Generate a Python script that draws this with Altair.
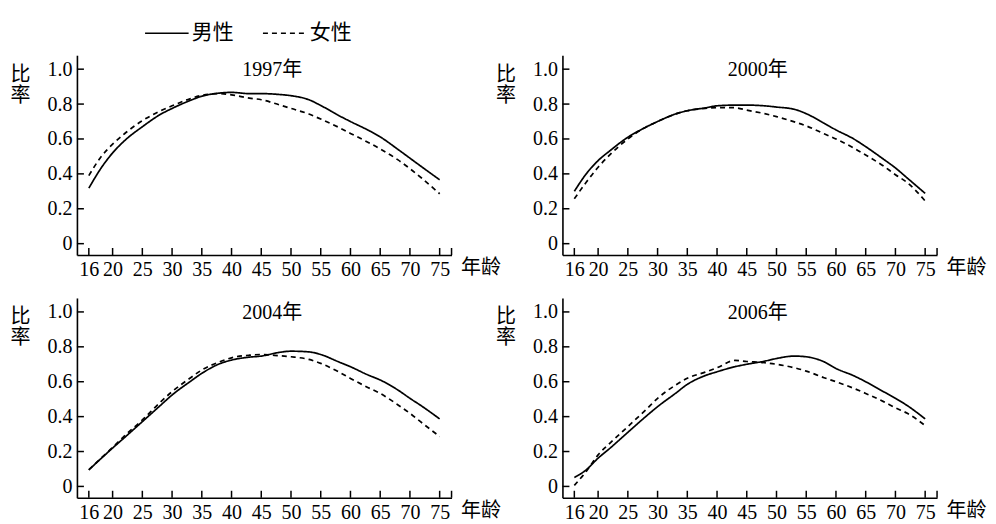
import altair as alt
import pandas as pd

# ---------------- data ----------------
ages = [16, 18, 20, 22, 25, 28, 30, 33, 35, 38, 40, 43, 45, 48, 50, 53, 55, 58, 60, 63, 65, 68, 70, 72, 75]
years = ["1997年", "2000年", "2004年", "2006年"]
sexes = ["男性", "女性"]

male_1997 = [0.318, 0.43, 0.52, 0.59, 0.67, 0.74, 0.775, 0.82, 0.845, 0.863, 0.867, 0.86, 0.86,
             0.855, 0.848, 0.825, 0.792, 0.735, 0.70, 0.65, 0.612, 0.54, 0.49, 0.44, 0.366]
female_1997 = [0.39, 0.495, 0.57, 0.63, 0.705, 0.76, 0.79, 0.83, 0.85, 0.86, 0.853, 0.834, 0.825,
               0.796, 0.775, 0.743, 0.714, 0.667, 0.632, 0.58, 0.543, 0.48, 0.43, 0.375, 0.286]
male_2000 = [0.30, 0.40, 0.476, 0.533, 0.61, 0.667, 0.70, 0.743, 0.762, 0.778, 0.79, 0.794, 0.794,
             0.79, 0.783, 0.77, 0.745, 0.69, 0.652, 0.60, 0.556, 0.484, 0.434, 0.376, 0.288]
female_2000 = [0.257, 0.352, 0.438, 0.51, 0.60, 0.667, 0.70, 0.743, 0.762, 0.775, 0.78, 0.779, 0.765,
               0.745, 0.728, 0.698, 0.675, 0.63, 0.60, 0.548, 0.508, 0.445, 0.395, 0.35, 0.245]
male_2004 = [0.095, 0.158, 0.22, 0.28, 0.371, 0.463, 0.524, 0.60, 0.648, 0.703, 0.724, 0.741, 0.747,
             0.768, 0.775, 0.771, 0.756, 0.714, 0.686, 0.638, 0.61, 0.552, 0.505, 0.46, 0.387]
female_2004 = [0.095, 0.16, 0.223, 0.29, 0.381, 0.482, 0.543, 0.62, 0.667, 0.714, 0.737, 0.752, 0.756,
               0.749, 0.743, 0.728, 0.705, 0.657, 0.619, 0.566, 0.533, 0.467, 0.419, 0.365, 0.286]
male_2006 = [0.051, 0.095, 0.162, 0.219, 0.31, 0.40, 0.457, 0.533, 0.585, 0.635, 0.657, 0.686, 0.70,
             0.718, 0.733, 0.747, 0.743, 0.714, 0.676, 0.634, 0.60, 0.543, 0.505, 0.463, 0.387]
female_2006 = [0.006, 0.086, 0.181, 0.248, 0.343, 0.438, 0.505, 0.58, 0.62, 0.655, 0.68, 0.722, 0.716,
               0.709, 0.70, 0.68, 0.661, 0.623, 0.60, 0.562, 0.533, 0.486, 0.451, 0.419, 0.349]

x_ticks = [16, 20, 25, 30, 35, 40, 45, 50, 55, 60, 65, 70, 75]
y_ticks = [0, 0.2, 0.4, 0.6, 0.8, 1.0]

series = {
    "1997年": (male_1997, female_1997),
    "2000年": (male_2000, female_2000),
    "2004年": (male_2004, female_2004),
    "2006年": (male_2006, female_2006),
}

rows = []
for yr in years:
    m, f = series[yr]
    for a, v in zip(ages, m):
        rows.append({"year": yr, "sex": "男性", "age": a, "rate": v})
    for a, v in zip(ages, f):
        rows.append({"year": yr, "sex": "女性", "age": a, "rate": v})
df = pd.DataFrame(rows)

# ---------------- style ----------------
W, H = 375, 200
FONT = "Liberation Serif, Noto Sans CJK SC"
NUMFONT = "Liberation Serif"
FS = 20
xscale = alt.Scale(domain=[14, 77], nice=False, zero=False)
yscale = alt.Scale(domain=[-0.065, 1.08], nice=False, zero=False)

x_axis = alt.Axis(
    values=x_ticks, ticks=False, grid=False, domainColor="black", domainWidth=1.6,
    labelFont=NUMFONT, labelFontSize=FS, labelColor="black", labelPadding=5,
    labelFlush=False, labelOverlap=False, format="d", labelFontWeight="normal",
    title="年龄", titleX=384, titleY=13, titleAlign="left", titleBaseline="middle",
    titleFont=FONT, titleFontSize=FS, titleFontWeight="normal", titleColor="black")
y_axis = alt.Axis(
    values=y_ticks, ticks=False, grid=False, domainColor="black", domainWidth=1.6,
    labelFont=NUMFONT, labelFontSize=FS, labelColor="black", labelPadding=5,
    labelExpr="datum.value == 0 ? '0' : format(datum.value, '.1f')", labelFontWeight="normal",
    labelFlush=False, labelOverlap=False,
    title=["比", "率"], titleAngle=0, titleX=-57, titleY=9, titleAlign="center",
    titleBaseline="top", titleLineHeight=21,
    titleFont=FONT, titleFontSize=FS, titleFontWeight="normal", titleColor="black")


def panel(yr, show_legend):
    d = df[df.year == yr]
    legend = None
    if show_legend:
        legend = alt.Legend(
            orient="none", legendX=67, legendY=-45, direction="horizontal", title=None,
            symbolType="stroke", symbolSize=1900, symbolStrokeWidth=1.7,
            symbolStrokeColor="black", labelFont=FONT, labelFontSize=21,
            labelColor="black", labelOffset=2, columnPadding=25,
        )
    lines = alt.Chart(d).mark_line(color="black", strokeWidth=1.7, interpolate="monotone").encode(
        x=alt.X("age:Q", scale=xscale, axis=x_axis),
        y=alt.Y("rate:Q", scale=yscale, axis=y_axis),
        strokeDash=alt.StrokeDash("sex:N", scale=alt.Scale(domain=sexes, range=[[1, 0], [5, 4]]),
                                  legend=legend),
    )
    xt = alt.Chart(pd.DataFrame({"age": x_ticks})).mark_rule(color="black", strokeWidth=1.5).encode(
        x=alt.X("age:Q", scale=xscale, axis=x_axis), y=alt.value(H), y2=alt.value(H - 7))
    yt = alt.Chart(pd.DataFrame({"rate": y_ticks})).mark_rule(color="black", strokeWidth=1.5).encode(
        y=alt.Y("rate:Q", scale=yscale, axis=y_axis), x=alt.value(0), x2=alt.value(7))
    et = alt.Chart(pd.DataFrame({"t": [0]})).mark_rule(color="black", strokeWidth=1.5).encode(
        x=alt.value(W), y=alt.value(H), y2=alt.value(H - 7))
    return alt.layer(lines, xt, yt, et).properties(
        width=W, height=H,
        title=alt.TitleParams(yr, anchor="middle", dx=8, offset=-25, baseline="top", frame="group",
                              font=FONT, fontSize=FS, fontWeight="normal", color="black"),
    )


chart = alt.concat(
    panel(years[0], True), panel(years[1], False), panel(years[2], False), panel(years[3], False),
    columns=2, spacing={"row": 43, "column": 111}, bounds="flush",
).properties(padding={"left": 2, "top": 2, "right": 2, "bottom": 2}
).configure(
    background="white", font=FONT,
    style={"guide-label": {"font": NUMFONT, "fontSize": FS},
           "guide-title": {"font": FONT, "fontSize": FS}},
).configure_view(strokeWidth=0
).configure_axis(labelFont=NUMFONT, titleFont=FONT, labelFontSize=FS, titleFontSize=FS,
                 labelFontWeight="normal"
).configure_legend(labelFont=FONT)

chart.save("out.html", embed_options={"renderer": "svg", "actions": False})
